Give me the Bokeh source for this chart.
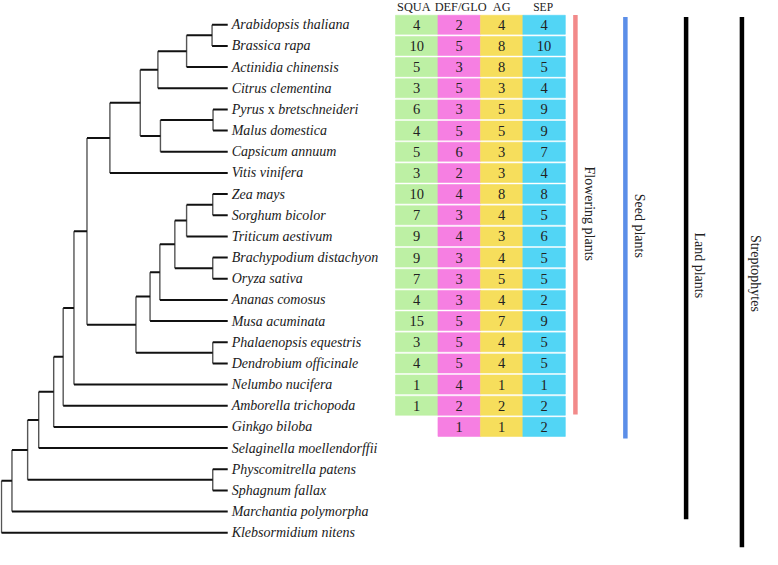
import numpy as np
from bokeh.plotting import figure
from bokeh.models import Range1d
from bokeh.core.properties import value
from bokeh.embed import file_html
from bokeh.resources import INLINE

# ---------------- data ----------------
taxa = ["Arabidopsis thaliana", "Brassica rapa", "Actinidia chinensis", "Citrus clementina",
        "Pyrus x bretschneideri", "Malus domestica", "Capsicum annuum", "Vitis vinifera",
        "Zea mays", "Sorghum bicolor", "Triticum aestivum", "Brachypodium distachyon",
        "Oryza sativa", "Ananas comosus", "Musa acuminata", "Phalaenopsis equestris",
        "Dendrobium officinale", "Nelumbo nucifera", "Amborella trichopoda", "Ginkgo biloba",
        "Selaginella moellendorffii", "Physcomitrella patens", "Sphagnum fallax",
        "Marchantia polymorpha", "Klebsormidium nitens"]

columns = ["SQUA", "DEF/GLO", "AG", "SEP"]
squa    = [4, 10, 5, 3, 6, 4, 5, 3, 10, 7, 9, 9, 7, 4, 15, 3, 4, 1, 1, None]
def_glo = [2, 5, 3, 5, 3, 5, 6, 2, 4, 3, 4, 3, 3, 3, 5, 5, 5, 4, 2, 1]
ag      = [4, 8, 8, 3, 5, 5, 3, 3, 8, 4, 3, 4, 5, 4, 7, 4, 4, 1, 2, 1]
sep     = [4, 10, 5, 4, 9, 9, 7, 4, 8, 5, 6, 5, 5, 2, 9, 5, 5, 1, 2, 2]

clades = ["Flowering plants", "Seed plants", "Land plants", "Streptophytes"]
clade_last = ["Amborella trichopoda", "Ginkgo biloba", "Marchantia polymorpha", "Klebsormidium nitens"]

# tree: internal node = (node depth, [children]); tip = name
tree = (1.0, [
    (11.7, [
        (27.7, [
            (39.0, [
                (54.3, [
                    (64.0, [
                        (75.0, [
                            (88.3, [
                                (111.7, [
                                    (142.7, [
                                        (160.7, [
                                            (190.0, [(216.0, ["Arabidopsis thaliana", "Brassica rapa"]),
                                                     "Actinidia chinensis"]),
                                            "Citrus clementina"]),
                                        (163.3, [(217.0, ["Pyrus x bretschneideri", "Malus domestica"]),
                                                 "Capsicum annuum"])]),
                                    "Vitis vinifera"]),
                                (138.3, [
                                    (152.7, [
                                        (162.7, [
                                            (178.0, [
                                                (190.0, [(216.7, ["Zea mays", "Sorghum bicolor"]),
                                                         "Triticum aestivum"]),
                                                (216.7, ["Brachypodium distachyon", "Oryza sativa"])]),
                                            "Ananas comosus"]),
                                        "Musa acuminata"]),
                                    (216.7, ["Phalaenopsis equestris", "Dendrobium officinale"])])]),
                            "Nelumbo nucifera"]),
                        "Amborella trichopoda"]),
                    "Ginkgo biloba"]),
                "Selaginella moellendorffii"]),
            (216.7, ["Physcomitrella patens", "Sphagnum fallax"])]),
        "Marchantia polymorpha"]),
    "Klebsormidium nitens"])
TIP_DEPTH = 232.0

# ---------------- layout / style ----------------
Y0, ROW = 25.0, 21.78
col_x0, col_w = 403.3, 43.35
cell_h = 19.6
col_colors = ["#bdf0a4", "#f67fe2", "#f6de5c", "#52d5f5"]
head_dx = [-3, 1.5, 0, -1]
head_size = ["12.3px", "12.3px", "12.3px", "11.5px"]
bar_x = [587, 638, 700, 757]
bar_colors = ["#f28a8a", "#5b8ee8", "#000000", "#000000"]
bar_top = [15, 17, 17, 17]
bar_pad = [9, 12, 8, 15]
label_dy = [-1, -2, -3, -9]
SERIF = value("Liberation Serif")

tip_y = {t: Y0 + i * ROW for i, t in enumerate(taxa)}

hx0, hx1, hy = [], [], []
vx, vy0, vy1 = [], [], []


def layout(node):
    if isinstance(node, str):
        return TIP_DEPTH, tip_y[node]
    depth, children = node
    ys = []
    for ch in children:
        cx, cy = layout(ch)
        hx0.append(depth); hx1.append(cx); hy.append(cy)
        ys.append(cy)
    vx.append(depth); vy0.append(min(ys)); vy1.append(max(ys))
    return depth, (min(ys) + max(ys)) / 2


layout(tree)

p = figure(width=762, height=549, x_range=Range1d(0, 778), y_range=Range1d(565, 0),
           output_backend="svg", toolbar_location=None, min_border=0,
           x_axis_location=None, y_axis_location=None)
p.grid.visible = False
p.outline_line_color = None
p.background_fill_color = "white"

# tree
p.segment(vx, vy0, vx, vy1, line_color="#555555", line_width=1.4)
p.segment(hx0, hy, hx1, hy, line_color="#111111", line_width=2)

# tip labels
lx, ly, lt = [], [], []
for t in taxa:
    if " x " in t:
        continue
    lx.append(TIP_DEPTH + 4); ly.append(tip_y[t]); lt.append(t)
p.text(lx, ly, text=lt, text_font=SERIF, text_font_style="italic", text_font_size="14px",
       text_baseline="middle", text_align="left", text_color="#1a1a1a")
for t in taxa:
    if " x " in t:
        a, b = t.split(" x ")
        yy = tip_y[t]
        p.text([TIP_DEPTH + 4], [yy], text=[a], text_font=SERIF, text_font_style="italic",
               text_font_size="14px", text_baseline="middle", text_color="#1a1a1a")
        p.text([TIP_DEPTH + 4], [yy], text=["x"], x_offset=36, text_font=SERIF,
               text_font_size="14px", text_baseline="middle", text_color="#1a1a1a")
        p.text([TIP_DEPTH + 4], [yy], text=[b], x_offset=46.5, text_font=SERIF,
               text_font_style="italic", text_font_size="14px", text_baseline="middle",
               text_color="#1a1a1a")

# table
values = [squa, def_glo, ag, sep]
for j, (name, vals, col) in enumerate(zip(columns, values, col_colors)):
    cx = col_x0 + col_w * (j + 0.5)
    xs, ys, ts = [], [], []
    for i, v in enumerate(vals):
        if v is None:
            continue
        xs.append(cx); ys.append(tip_y[taxa[i]]); ts.append(str(v))
    p.rect(xs, ys, width=col_w, height=cell_h, fill_color=col, line_color=col, line_width=0.6)
    p.text(xs, ys, text=ts, text_font=SERIF, text_font_size="14.5px", text_align="center",
           text_baseline="middle", text_color="#222222")
    p.text([cx + head_dx[j]], [7], text=[name], text_font=SERIF, text_font_size=head_size[j],
           text_align="center", text_baseline="middle", text_color="#222222")

# clade bars
for k, (c, last) in enumerate(zip(clades, clade_last)):
    y_end = tip_y[last] + bar_pad[k]
    p.segment([bar_x[k]], [bar_top[k]], [bar_x[k]], [y_end], line_color=bar_colors[k],
              line_width=4.5)
    p.text([bar_x[k] + 14], [(bar_top[k] + y_end) / 2 + label_dy[k]], text=[c], angle=-np.pi / 2,
           text_font=SERIF, text_font_size="14px", text_align="center", text_baseline="middle",
           text_color="#222222")

open("out.html", "w").write(file_html(p, INLINE))
